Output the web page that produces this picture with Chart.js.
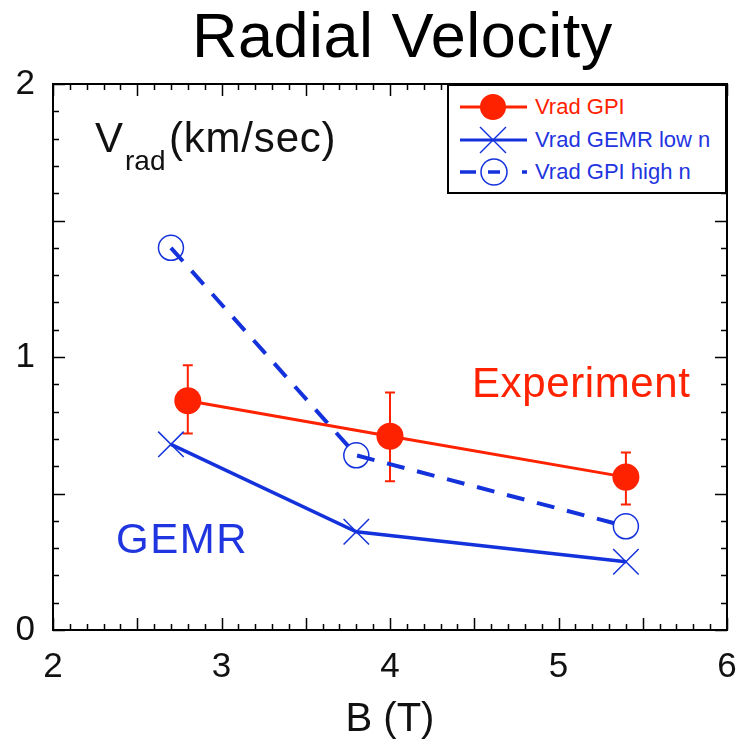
<!DOCTYPE html>
<html>
<head>
<meta charset="utf-8">
<script src="https://cdn.jsdelivr.net/npm/chart.js@4.4.1/dist/chart.umd.min.js"></script>
<style>
  body { margin: 0; background: #fff; }
  #wrap { position: relative; width: 740px; height: 744px; font-family: 'Liberation Sans', Arial, Helvetica, sans-serif; }
  canvas { position: absolute; left: 0; top: 0; }
  .note { position: absolute; line-height: 1; white-space: nowrap; }
  #legend { position: absolute; left: 447px; top: 84px; width: 276px; height: 106px; border: 2px solid #000; background: #fff; }
  .row { position: absolute; left: 11px; height: 30px; display: flex; align-items: center; font-size: 22px; white-space: nowrap; }
  .row svg { margin-right: 5px; }
</style>
</head>
<body>
<div id="wrap">
  <canvas id="rvChart" width="740" height="744"></canvas>

  <div class="note" style="left:192px; top:4px; font-size:63px; color:#000; letter-spacing:0.5px;">Radial Velocity</div>
  <div class="note" style="left:95px; top:117px; font-size:42px; color:#111;">V</div>
  <div class="note" style="left:125px; top:147px; font-size:28px; color:#111;">rad</div>
  <div class="note" style="left:169px; top:117px; font-size:42px; color:#111; letter-spacing:0.8px;">(km/sec)</div>
  <div class="note" style="left:472px; top:362px; font-size:42px; color:#ff2200; letter-spacing:0.6px;">Experiment</div>
  <div class="note" style="left:116px; top:518px; font-size:42px; color:#1f35e0; letter-spacing:1.5px;">GEMR</div>

  <div id="legend">
    <div class="row" style="top:6px; color:#ff2200;">
      <svg width="70" height="30"><line x1="0" y1="15" x2="67" y2="15" stroke="#ff2200" stroke-width="3"/><circle cx="33" cy="15" r="13" fill="#ff2200"/></svg>Vrad GPI
    </div>
    <div class="row" style="top:39px; color:#1f35e0;">
      <svg width="70" height="30"><line x1="0" y1="15" x2="67" y2="15" stroke="#1432dc" stroke-width="3"/><line x1="20" y1="2" x2="46" y2="28" stroke="#1432dc" stroke-width="1.5"/><line x1="20" y1="28" x2="46" y2="2" stroke="#1432dc" stroke-width="1.5"/></svg>Vrad GEMR low n
    </div>
    <div class="row" style="top:71px; color:#1f35e0;">
      <svg width="70" height="30"><line x1="0" y1="15" x2="16" y2="15" stroke="#1432dc" stroke-width="3.5"/><line x1="28" y1="15" x2="40" y2="15" stroke="#1432dc" stroke-width="3.5"/><line x1="62" y1="15" x2="67" y2="15" stroke="#1432dc" stroke-width="3.5"/><circle cx="34" cy="15" r="13" fill="none" stroke="#1432dc" stroke-width="1.5"/></svg>Vrad GPI high n
    </div>
  </div>
</div>

<script>
// Values
const bGpi = [2.8, 4.0, 5.4];
const vradGpi = [0.84, 0.71, 0.56];
const gpiErrHigh = [0.97, 0.87, 0.65];
const gpiErrLow = [0.72, 0.545, 0.46];

const bGemr = [2.7, 3.8, 5.4];
const vradGemr = [0.68, 0.36, 0.25];

const bGpiHigh = [2.7, 3.8, 5.4];
const vradGpiHigh = [1.40, 0.64, 0.38];

const xTicks = [2, 3, 4, 5, 6];
const yTicks = [0, 1, 2];

const RED = '#ff2200';
const BLUE = '#1432dc';

function toPoints(xs, ys) {
    return xs.map((x, i) => ({ x: x, y: ys[i] }));
}

// Error bars on the GPI series
const errorBars = {
    id: 'errorBars',
    beforeDatasetsDraw(chart) {
        const ctx = chart.ctx;
        const xs = chart.scales.x, ys = chart.scales.y;
        ctx.save();
        ctx.strokeStyle = RED;
        ctx.lineWidth = 2;
        bGpi.forEach((b, i) => {
            const px = xs.getPixelForValue(b);
            const top = ys.getPixelForValue(gpiErrHigh[i]);
            const bot = ys.getPixelForValue(gpiErrLow[i]);
            ctx.beginPath();
            ctx.moveTo(px, top); ctx.lineTo(px, bot);
            ctx.moveTo(px - 5, top); ctx.lineTo(px + 5, top);
            ctx.moveTo(px - 5, bot); ctx.lineTo(px + 5, bot);
            ctx.stroke();
        });
        ctx.restore();
    }
};

// Box frame with inward ticks on all four sides
const frameTicks = {
    id: 'frameTicks',
    afterDatasetsDraw(chart) {
        const ctx = chart.ctx;
        const a = chart.chartArea;
        const xs = chart.scales.x, ys = chart.scales.y;
        ctx.save();
        ctx.strokeStyle = '#000';
        ctx.lineWidth = 1.5;
        ctx.beginPath();
        for (let i = 20; i <= 60; i++) {
            const px = Math.round(xs.getPixelForValue(i / 10)) + 0.5;
            const len = i % 5 === 0 ? 12 : 6;
            ctx.moveTo(px, a.bottom); ctx.lineTo(px, a.bottom - len);
            ctx.moveTo(px, a.top); ctx.lineTo(px, a.top + len);
        }
        for (let i = 0; i <= 20; i++) {
            const py = Math.round(ys.getPixelForValue(i / 10)) + 0.5;
            const len = i % 5 === 0 ? 12 : 6;
            ctx.moveTo(a.left, py); ctx.lineTo(a.left + len, py);
            ctx.moveTo(a.right, py); ctx.lineTo(a.right - len, py);
        }
        ctx.stroke();
        ctx.lineWidth = 2;
        ctx.strokeRect(a.left, a.top, a.right - a.left, a.bottom - a.top);
        ctx.restore();
    }
};

Chart.defaults.font.family = "'Liberation Sans', Arial, Helvetica, sans-serif";
Chart.defaults.color = '#111';

const ctx = document.getElementById('rvChart').getContext('2d');
new Chart(ctx, {
    type: 'scatter',
    data: {
        datasets: [{
            label: 'Vrad GPI',
            data: toPoints(bGpi, vradGpi),
            showLine: true,
            borderColor: RED,
            backgroundColor: RED,
            borderWidth: 3,
            pointStyle: 'circle',
            pointRadius: 13.5,
            pointBorderWidth: 0,
            pointBackgroundColor: RED
        }, {
            label: 'Vrad GEMR low n',
            data: toPoints(bGemr, vradGemr),
            showLine: true,
            borderColor: BLUE,
            borderWidth: 3.5,
            pointStyle: 'crossRot',
            pointRadius: 18,
            pointBorderWidth: 1.5,
            pointBorderColor: BLUE
        }, {
            label: 'Vrad GPI high n',
            data: toPoints(bGpiHigh, vradGpiHigh),
            showLine: true,
            borderColor: BLUE,
            borderWidth: 4,
            borderDash: [18, 13],
            pointStyle: 'circle',
            pointRadius: 12.5,
            pointBorderWidth: 1.5,
            pointBorderColor: BLUE,
            pointBackgroundColor: 'rgba(0,0,0,0)'
        }]
    },
    options: {
        responsive: false,
        animation: false,
        layout: { autoPadding: false, padding: { left: 15.5, right: 13, top: 84, bottom: 0 } },
        plugins: {
            legend: { display: false },
            tooltip: { enabled: false }
        },
        scales: {
            x: {
                type: 'linear',
                min: 2,
                max: 6,
                afterBuildTicks: (axis) => { axis.ticks = xTicks.map(v => ({ value: v })); },
                afterFit: (axis) => {
                    axis.height = 114;
                    axis.paddingLeft = 0;
                    axis.paddingRight = 0;
                },
                ticks: { font: { size: 35 }, padding: 16, maxRotation: 0 },
                grid: { display: false, drawTicks: false },
                border: { display: false },
                title: {
                    display: true,
                    text: 'B (T)',
                    color: '#111',
                    font: { size: 40 },
                    padding: { top: 8, bottom: 0 }
                }
            },
            y: {
                type: 'linear',
                min: 0,
                max: 2,
                afterBuildTicks: (axis) => { axis.ticks = yTicks.map(v => ({ value: v })); },
                afterFit: (axis) => {
                    axis.width = 37.5;
                    axis.paddingTop = 0;
                    axis.paddingBottom = 0;
                },
                ticks: { font: { size: 35 }, padding: 18 },
                grid: { display: false, drawTicks: false },
                border: { display: false }
            }
        }
    },
    plugins: [errorBars, frameTicks]
});
</script>
</body>
</html>
